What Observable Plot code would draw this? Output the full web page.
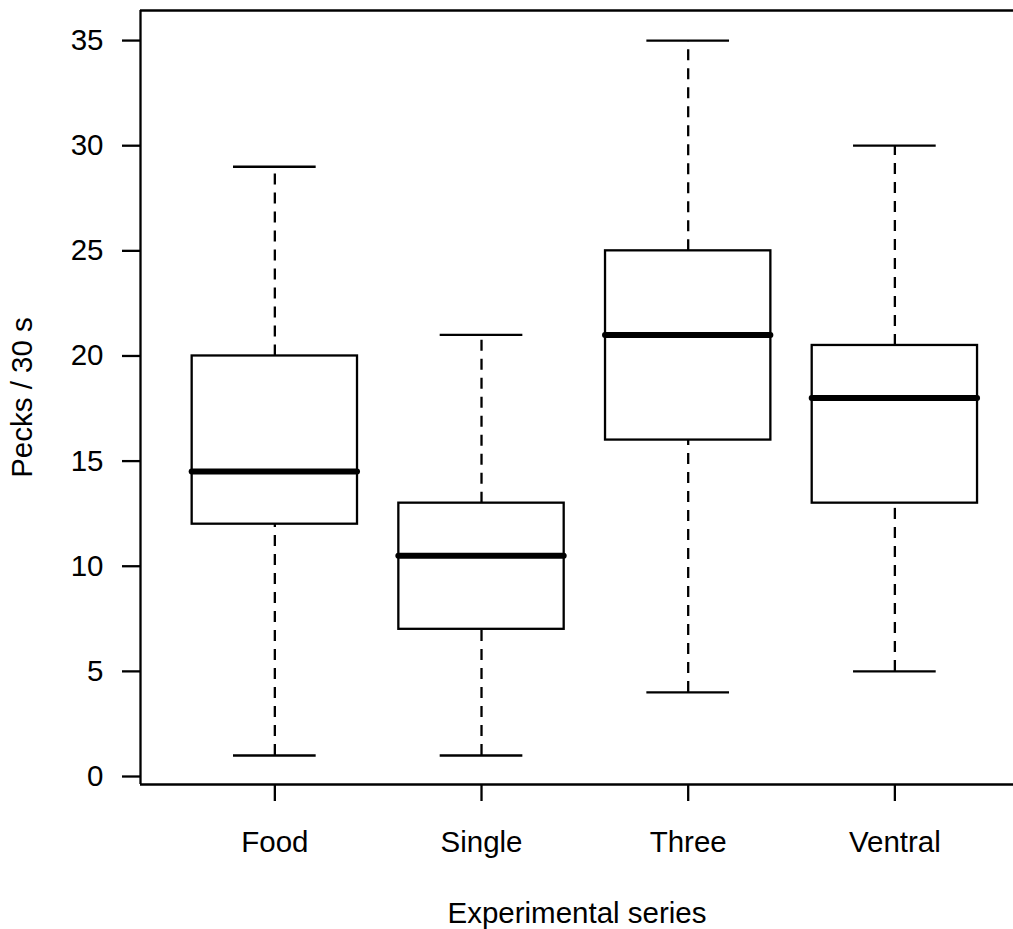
<!DOCTYPE html>
<html>
<head>
<meta charset="utf-8">
<script src="https://cdn.jsdelivr.net/npm/d3@7"></script>
<script src="https://cdn.jsdelivr.net/npm/@observablehq/plot@0.6"></script>
<style>
  html, body { margin: 0; padding: 0; background: #fff; overflow: hidden; }
  #chart svg { display: block; }
</style>
</head>
<body>
<div id="chart"></div>
<script>
const categories = ["Food", "Single", "Three", "Ventral"];
const mins    = [1, 1, 4, 5];
const q1s     = [12, 7, 16, 13];
const medians = [14.5, 10.5, 21, 18];
const q3s     = [20, 13, 25, 20.5];
const maxs    = [29, 21, 35, 30];
const yTicks  = [0, 5, 10, 15, 20, 25, 30, 35];

const data = categories.map((c, i) => ({
  cat: c, pos: i + 1, min: mins[i], q1: q1s[i], med: medians[i], q3: q3s[i], max: maxs[i]
}));

const xDomain = [0.35, 4.574];
const yDomain = [-0.38, 36.43];
const font = "'Liberation Sans', Arial, Helvetica, sans-serif";
const fs = 29.5;
const half = 0.4, capHalf = 0.2;
const dash = "11,8";
const lw = 2.3;

const chart = Plot.plot({
  width: 1013,
  height: 929,
  marginLeft: 140,
  marginRight: 0,
  marginTop: 10,
  marginBottom: 145,
  style: { fontFamily: font, fontSize: fs + "px", color: "#000", background: "#fff" },
  x: { domain: xDomain, axis: null },
  y: { domain: yDomain, axis: null },
  marks: [
    // frame: left, bottom, top
    Plot.ruleX([xDomain[0]], { stroke: "#000", strokeWidth: lw }),
    Plot.ruleY([yDomain[0], yDomain[1]], { stroke: "#000", strokeWidth: lw }),
    // whiskers
    Plot.ruleX(data, { x: "pos", y1: "q3", y2: "max", stroke: "#000", strokeWidth: lw, strokeDasharray: dash }),
    Plot.ruleX(data, { x: "pos", y1: "min", y2: "q1", stroke: "#000", strokeWidth: lw, strokeDasharray: dash }),
    // caps
    Plot.ruleY(data, { y: "max", x1: d => d.pos - capHalf, x2: d => d.pos + capHalf, stroke: "#000", strokeWidth: lw }),
    Plot.ruleY(data, { y: "min", x1: d => d.pos - capHalf, x2: d => d.pos + capHalf, stroke: "#000", strokeWidth: lw }),
    // boxes
    Plot.rect(data, { x1: d => d.pos - half, x2: d => d.pos + half, y1: "q1", y2: "q3", fill: "#fff", stroke: "#000", strokeWidth: lw }),
    // medians
    Plot.ruleY(data, { y: "med", x1: d => d.pos - half, x2: d => d.pos + half, stroke: "#000", strokeWidth: 6, strokeLinecap: "round" }),
    // y axis
    Plot.axisY(yTicks, { anchor: "left", tickSize: 18, tickPadding: 19, strokeWidth: lw, fontSize: fs, label: null }),
    // x axis
    Plot.axisX(data.map(d => d.pos), { anchor: "bottom", tickSize: 17, tickPadding: 30, strokeWidth: lw, fontSize: fs,
      tickFormat: v => categories[v - 1], label: null }),
    // axis titles
    Plot.text(["Experimental series"], { frameAnchor: "bottom", dy: 138, text: d => d, fontSize: fs, lineAnchor: "bottom", fill: "#000" }),
    Plot.text(["Pecks / 30 s"], { frameAnchor: "left", dx: -118, rotate: -90, textAnchor: "middle", text: d => d, fontSize: fs, fill: "#000" })
  ]
});
document.getElementById("chart").appendChild(chart);
</script>
</body>
</html>
